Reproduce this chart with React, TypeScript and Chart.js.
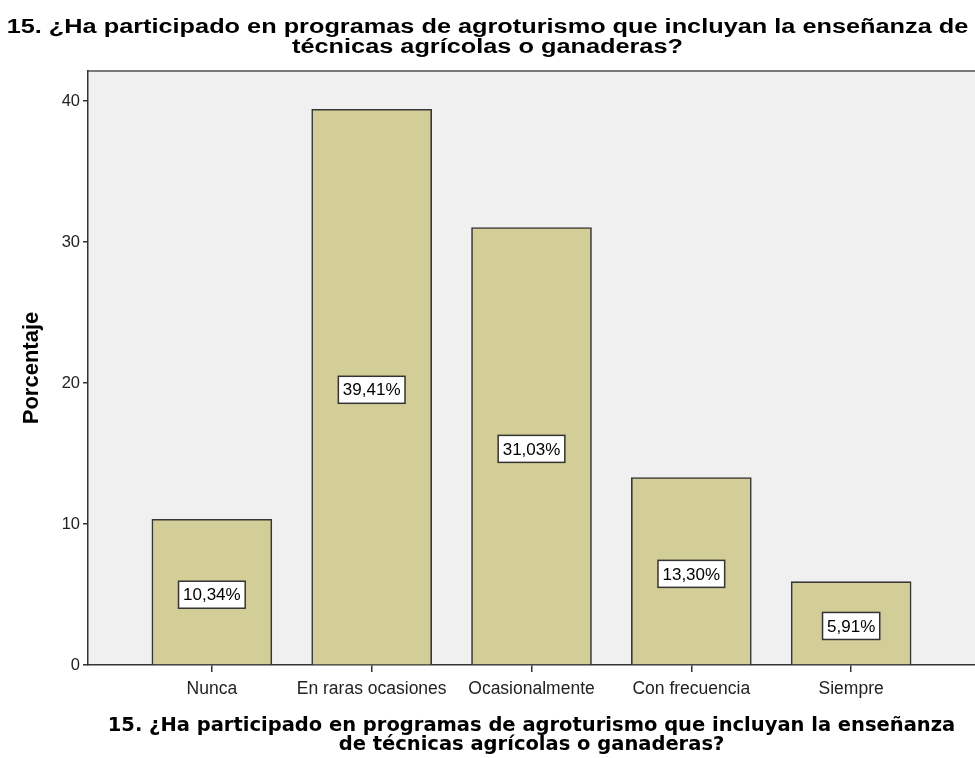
import React, { useEffect, useRef } from "react";
import { Chart, registerables } from "chart.js";

Chart.register(...registerables);

const categories = ["Nunca", "En raras ocasiones", "Ocasionalmente", "Con frecuencia", "Siempre"];
const percentages = [10.34, 39.41, 31.03, 13.3, 5.91];
const yTicks = [0, 10, 20, 30, 40];
const titleLines = [
  "15. ¿Ha participado en programas de agroturismo que incluyan la enseñanza de",
  "técnicas agrícolas o ganaderas?",
];
const xTitleLines = [
  "15. ¿Ha participado en programas de agroturismo que incluyan la enseñanza",
  "de técnicas agrícolas o ganaderas?",
];
const yTitle = "Porcentaje";

const FONT = "'Liberation Sans', Arial, sans-serif";
const WIDE_FONT = "'DejaVu Sans', Verdana, sans-serif";

const backgroundPlugin = {
  id: "plotBackground",
  beforeDraw(chart: any) {
    const { ctx, chartArea, width, height } = chart;
    ctx.save();
    ctx.fillStyle = "#ffffff";
    ctx.fillRect(0, 0, width, height);
    ctx.fillStyle = "#f0f0f0";
    ctx.fillRect(chartArea.left, chartArea.top, chartArea.right - chartArea.left, chartArea.bottom - chartArea.top);
    ctx.strokeStyle = "#7a7a7a";
    ctx.lineWidth = 2;
    ctx.beginPath();
    ctx.moveTo(chartArea.left, chartArea.top);
    ctx.lineTo(chartArea.right, chartArea.top);
    ctx.stroke();
    ctx.restore();
  },
};

// Main title, drawn horizontally widened like the original export
const titlePlugin = {
  id: "wideTitle",
  afterDraw(chart: any) {
    const { ctx, width } = chart;
    const sx = 1.265;
    ctx.save();
    ctx.font = `bold 20px ${FONT}`;
    ctx.fillStyle = "#000000";
    ctx.textAlign = "center";
    ctx.textBaseline = "middle";
    ctx.translate(width / 2, 0);
    ctx.scale(sx, 1);
    titleLines.forEach((line, i) => {
      ctx.fillText(line, 0, 27 + i * 20);
    });
    ctx.restore();
  },
};

const labelPlugin = {
  id: "barLabels",
  afterDatasetsDraw(chart: any) {
    const { ctx } = chart;
    const meta = chart.getDatasetMeta(0);
    ctx.save();
    ctx.font = `17px ${FONT}`;
    ctx.textAlign = "center";
    ctx.textBaseline = "middle";
    meta.data.forEach((el: any, i: number) => {
      const { x, y, base } = el.getProps(["x", "y", "base"], true);
      const cy = (y + base) / 2 + 3;
      const text = percentages[i].toFixed(2).replace(".", ",") + "%";
      const w = ctx.measureText(text).width + 9;
      const h = 27;
      ctx.fillStyle = "#ffffff";
      ctx.fillRect(x - w / 2, cy - h / 2, w, h);
      ctx.strokeStyle = "#333333";
      ctx.lineWidth = 1.5;
      ctx.strokeRect(x - w / 2, cy - h / 2, w, h);
      ctx.fillStyle = "#000000";
      ctx.fillText(text, x, cy + 1);
    });
    ctx.restore();
  },
};

export default function App() {
  const ref = useRef<HTMLCanvasElement | null>(null);

  useEffect(() => {
    if (!ref.current) return;
    const chart = new Chart(ref.current, {
      type: "bar",
      data: {
        datasets: [
          {
            data: percentages.map((v, i) => ({ x: i, y: v })),
            backgroundColor: "#d3ce97",
            borderColor: "#363636",
            borderWidth: 1.6,
            barThickness: 120,
          } as any,
        ],
      },
      options: {
        responsive: false,
        animation: false,
        layout: { padding: { top: 71, left: 0, right: 0, bottom: 0 } },
        plugins: {
          legend: { display: false },
          tooltip: { enabled: false },
          title: { display: false },
        },
        scales: {
          x: {
            type: "linear",
            offset: false,
            min: -0.775,
            max: 4.775,
            afterBuildTicks: (s: any) => {
              s.ticks = categories.map((_, i) => ({ value: i }));
            },
            afterFit: (s: any) => {
              s.height = 93;
            },
            ticks: {
              autoSkip: false,
              maxRotation: 0,
              color: "#222222",
              font: { family: FONT, size: 17.5 },
              padding: 7,
              callback: (v: any) => categories[v as number] ?? "",
            },
            grid: {
              offset: false,
              drawOnChartArea: false,
              drawTicks: true,
              tickLength: 7,
              color: "#333333",
              lineWidth: 1.5,
            },
            border: { display: true, color: "#333333", width: 1.5 },
            title: {
              display: true,
              text: xTitleLines,
              color: "#000000",
              font: { family: WIDE_FONT, size: 19.5, weight: "bold", lineHeight: 1.0 },
              padding: { top: 6, bottom: 3 },
            },
          },
          y: {
            type: "linear",
            min: 0,
            max: 42.13,
            afterBuildTicks: (s: any) => {
              s.ticks = yTicks.map((v) => ({ value: v }));
            },
            afterFit: (s: any) => {
              s.width = 88;
            },
            ticks: {
              color: "#222222",
              font: { family: FONT, size: 16.5 },
              padding: 3,
            },
            grid: { drawOnChartArea: false, drawTicks: true, tickLength: 5, color: "#333333", lineWidth: 1.5 },
            border: { display: true, color: "#333333", width: 1.5 },
            title: {
              display: true,
              text: yTitle,
              color: "#000000",
              font: { family: FONT, size: 22, weight: "bold" },
              padding: { top: 19, bottom: 0 },
            },
          },
        },
      },
      plugins: [backgroundPlugin, labelPlugin, titlePlugin],
    });
    return () => chart.destroy();
  }, []);

  return (
    <div style={{ position: "absolute", left: 0, top: 0, width: 975, height: 758 }}>
      <canvas ref={ref} width={975} height={758} style={{ display: "block" }} />
    </div>
  );
}
